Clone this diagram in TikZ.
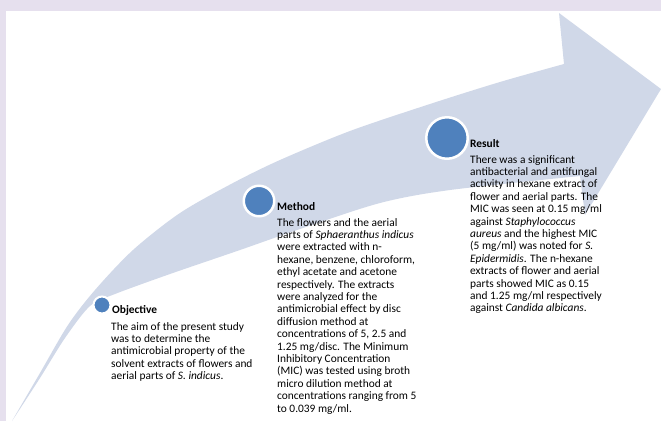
\documentclass[tikz,border=0pt]{standalone}
\usepackage{fontspec}
\setmainfont{Carlito}
\definecolor{framecol}{RGB}{230,224,238}
\definecolor{bandcol}{RGB}{208,216,232}
\definecolor{dotcol}{RGB}{79,129,189}
\newcommand\txtlines[1]{\vtop{\halign{##\hfil\cr#1\crcr}}}
\begin{document}
\begin{tikzpicture}[x=1pt,y=-1pt,
  heading/.style={anchor=base west, inner sep=0pt, font=\fontsize{11.4}{12.4}\selectfont\bfseries},
  bodytext/.style={anchor=base west, inner sep=0pt, font=\fontsize{11.4}{12.4}\selectfont},
  dotmark/.style={circle, fill=dotcol, draw=white, inner sep=0pt}]
\useasboundingbox (0,0) rectangle (661,421);
\fill[framecol] (0,0) rectangle (661,421);
\fill[white] (6,11) rectangle (661,421);
% curved arrow
\fill[bandcol] plot[smooth] coordinates {(12,421) (40,373) (68,325) (95,290) (133,250) (180,213) (233,183) (280,160) (350,131) (430,104) (500,82) (564,64)}
  -- (559,13) -- (661,89) -- (585,215)
  -- plot[smooth] coordinates {(580,176) (450,190) (380,203) (300,229) (240,250) (170,274) (115,294) (90,306) (65,338) (40,378) (12,421)} -- cycle;
% dots
\node[dotmark, line width=2pt, minimum size=17pt] (objdot) at (102,305) {};
\node[dotmark, line width=2.5pt, minimum size=30.5pt] (metdot) at (259,201) {};
\node[dotmark, line width=2.5pt, minimum size=41.5pt] (resdot) at (447,138) {};
% Objective
\node[heading] (objhead) at (112,313) {Objective};
\node[bodytext] (objbody) at (111,330) {\txtlines{The aim of the present study\cr
was to determine the\cr
antimicrobial property of the\cr
solvent extracts of flowers and\cr
aerial parts of \textit{S. indicus}.}};
% Method
\node[heading] (methead) at (277,210) {Method};
\node[bodytext] (metbody) at (277,226) {\txtlines{The flowers and the aerial\cr
parts of \textit{Sphaeranthus indicus}\cr
were extracted with n-\cr
hexane, benzene, chloroform,\cr
ethyl acetate and acetone\cr
respectively. The extracts\cr
were analyzed for the\cr
antimicrobial effect by disc\cr
diffusion method at\cr
concentrations of 5, 2.5 and\cr
1.25 mg/disc. The Minimum\cr
Inhibitory Concentration\cr
(MIC) was tested using broth\cr
micro dilution method at\cr
concentrations ranging from 5\cr
to 0.039 mg/ml.}};
% Result
\node[heading] (reshead) at (470,147) {Result};
\node[bodytext] (resbody) at (470,163) {\txtlines{There was a significant\cr
antibacterial and antifungal\cr
activity in hexane extract of\cr
flower and aerial parts. The\cr
MIC was seen at 0.15 mg/ml\cr
against \textit{Staphylococcus}\cr
\textit{aureus} and the highest MIC\cr
(5 mg/ml) was noted for \textit{S.}\cr
\textit{Epidermidis}. The n-hexane\cr
extracts of flower and aerial\cr
parts showed MIC as 0.15\cr
and 1.25 mg/ml respectively\cr
against \textit{Candida albicans}.}};
\end{tikzpicture}
\end{document}
